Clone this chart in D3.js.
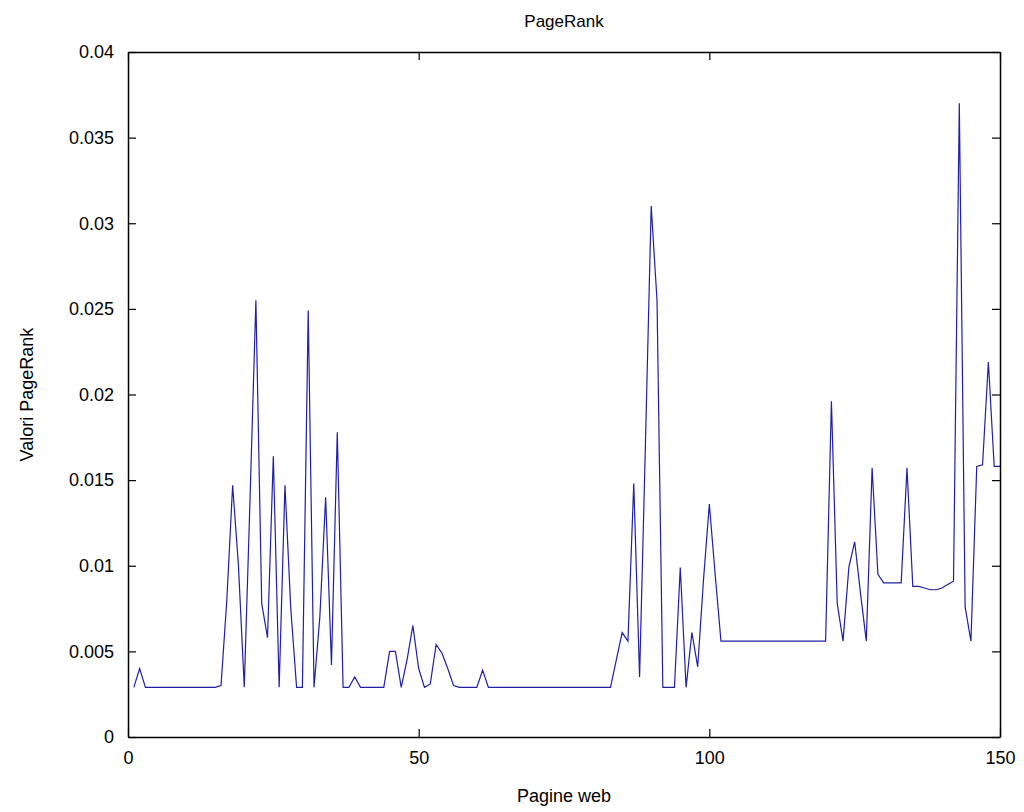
<!DOCTYPE html>
<html lang="it">
<head>
<meta charset="utf-8">
<title>PageRank</title>
<script src="https://cdn.jsdelivr.net/npm/d3@7/dist/d3.min.js"></script>
<style>
  html, body { margin: 0; padding: 0; background: #fff; overflow: hidden; }
  svg { display: block; }
  text { font-family: "Liberation Sans", Arial, sans-serif; fill: #000; }
</style>
</head>
<body>
<svg width="1024" height="812"></svg>
<script>
// PageRank value for each web page (index 1..150)
const pageRank = [
  0.0029, 0.0040, 0.0029, 0.0029, 0.0029, 0.0029, 0.0029, 0.0029, 0.0029, 0.0029,
  0.0029, 0.0029, 0.0029, 0.0029, 0.0029, 0.0030, 0.0080, 0.0147, 0.0100, 0.0029,
  0.0140, 0.0255, 0.0078, 0.0058, 0.0164, 0.0029, 0.0147, 0.0075, 0.0029, 0.0029,
  0.0249, 0.0029, 0.0070, 0.0140, 0.0042, 0.0178, 0.0029, 0.0029, 0.0035, 0.0029,
  0.0029, 0.0029, 0.0029, 0.0029, 0.0050, 0.0050, 0.0029, 0.0045, 0.0065, 0.0040,
  0.0029, 0.0031, 0.0054, 0.0049, 0.0040, 0.0030, 0.0029, 0.0029, 0.0029, 0.0029,
  0.0039, 0.0029, 0.0029, 0.0029, 0.0029, 0.0029, 0.0029, 0.0029, 0.0029, 0.0029,
  0.0029, 0.0029, 0.0029, 0.0029, 0.0029, 0.0029, 0.0029, 0.0029, 0.0029, 0.0029,
  0.0029, 0.0029, 0.0029, 0.0045, 0.0061, 0.0056, 0.0148, 0.0035, 0.0170, 0.0310,
  0.0255, 0.0029, 0.0029, 0.0029, 0.0099, 0.0029, 0.0061, 0.0041, 0.0092, 0.0136,
  0.0095, 0.0056, 0.0056, 0.0056, 0.0056, 0.0056, 0.0056, 0.0056, 0.0056, 0.0056,
  0.0056, 0.0056, 0.0056, 0.0056, 0.0056, 0.0056, 0.0056, 0.0056, 0.0056, 0.0056,
  0.0196, 0.0078, 0.0056, 0.0099, 0.0114, 0.0084, 0.0056, 0.0157, 0.0095, 0.0090,
  0.0090, 0.0090, 0.0090, 0.0157, 0.0088, 0.0088, 0.0087, 0.0086, 0.0086, 0.0087,
  0.0089, 0.0091, 0.0370, 0.0076, 0.0056, 0.0158, 0.0159, 0.0219, 0.0158, 0.0158
];
const xTicks = [0, 50, 100, 150];
const yTicks = [0, 0.005, 0.01, 0.015, 0.02, 0.025, 0.03, 0.035, 0.04];
const yTickLabels = ["0", "0.005", "0.01", "0.015", "0.02", "0.025", "0.03", "0.035", "0.04"];

const svg = d3.select("svg");
const plotLeft = 128, plotRight = 1000, plotTop = 52, plotBottom = 737;

const x = d3.scaleLinear().domain([0, 150]).range([plotLeft, plotRight]);
const y = d3.scaleLinear().domain([0, 0.04]).range([plotBottom, plotTop]);

// line
const line = d3.line()
  .x((d, i) => x(i + 1))
  .y(d => y(d));

svg.append("path")
  .datum(pageRank)
  .attr("fill", "none")
  .attr("stroke", "#1f1fa8")
  .attr("stroke-width", 1.2)
  .attr("d", line);

// axes (ticks pointing inward, mirrored on top and right)
const tickLen = 8;
const fontSize = "18px";

const xAxis = svg.append("g")
  .attr("transform", `translate(0,${plotBottom})`)
  .call(d3.axisBottom(x).tickValues(xTicks).tickSizeInner(-tickLen).tickSizeOuter(0).tickPadding(tickLen + 6).tickFormat(d3.format("d")));
const xAxisTop = svg.append("g")
  .attr("transform", `translate(0,${plotTop})`)
  .call(d3.axisTop(x).tickValues(xTicks).tickSizeInner(-tickLen).tickSizeOuter(0).tickFormat(""));
const yAxis = svg.append("g")
  .attr("transform", `translate(${plotLeft},0)`)
  .call(d3.axisLeft(y).tickValues(yTicks).tickSizeInner(-tickLen).tickSizeOuter(0).tickPadding(tickLen + 6)
    .tickFormat((d, i) => yTickLabels[i]));
const yAxisRight = svg.append("g")
  .attr("transform", `translate(${plotRight},0)`)
  .call(d3.axisRight(y).tickValues(yTicks).tickSizeInner(-tickLen).tickSizeOuter(0).tickFormat(""));

[xAxis, xAxisTop, yAxis, yAxisRight].forEach(g => {
  g.selectAll("path").attr("stroke", "#000").attr("stroke-width", 1.5);
  g.selectAll("line").attr("stroke", "#000").attr("stroke-width", 1.2);
  g.selectAll("text").style("font-size", fontSize).style("font-family", "Liberation Sans, Arial, sans-serif").attr("fill", "#000");
});

// title & labels
svg.append("text")
  .attr("x", (plotLeft + plotRight) / 2).attr("y", 27)
  .attr("text-anchor", "middle")
  .style("font-size", "17px")
  .text("PageRank");

svg.append("text")
  .attr("x", (plotLeft + plotRight) / 2).attr("y", 802)
  .attr("text-anchor", "middle")
  .style("font-size", "18px")
  .text("Pagine web");

svg.append("text")
  .attr("transform", `translate(33,${(plotTop + plotBottom) / 2}) rotate(-90)`)
  .attr("text-anchor", "middle")
  .style("font-size", "18px")
  .text("Valori PageRank");
</script>
</body>
</html>
